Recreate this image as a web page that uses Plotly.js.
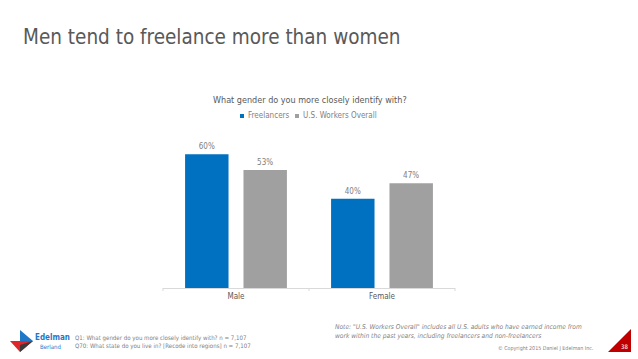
<!DOCTYPE html>
<html><head><meta charset="utf-8">
<script src="https://cdn.plot.ly/plotly-3.0.1.min.js"></script>
<style>html,body{margin:0;padding:0;background:#fff}#c{width:638px;height:359px}</style>
</head><body><div id="c"></div>
<script>
const categories = ["Male", "Female"];
const freelancers = [60, 40];
const workersOverall = [53, 47];
const seriesNames = ["Freelancers", "U.S. Workers Overall"];
const seriesColors = ["#0070C0", "#A0A0A0"];

const W = 638, H = 359;
const L = 163, R = 455, T = 132, B = 288;
const px = x => (x - L) / (R - L);
const py = y => (B - y) / (B - T);
const FONT = "'Liberation Sans Narrow', 'DejaVu Sans Condensed', 'Roboto', Arial, sans-serif";

function pathP(pts){
  return 'M' + pts.map(p => px(p[0]).toFixed(4) + ',' + py(p[1]).toFixed(4)).join('L') + 'Z';
}

const lbl = v => v.map(x => x + '%');
const traces = [freelancers, workersOverall].map((vals, i) => ({
  type:'bar', name:seriesNames[i], x:categories, y:vals, marker:{color:seriesColors[i]},
  text:lbl(vals), textposition:'outside', cliponaxis:false,
  textfont:{size:8, color:'#808080', family:FONT}, hoverinfo:'none'
}));

// custom legend (small square markers)
const legendItems = [{x:242, tx:246}, {x:297, tx:301}];
const legendShapes = legendItems.map((it, i) => ({
  type:'rect', xref:'paper', yref:'paper',
  x0:px(it.x - 2), x1:px(it.x + 2), y0:py(118), y1:py(114),
  fillcolor:seriesColors[i], line:{width:0}
}));
const legendAnns = legendItems.map((it, i) => ({
  text:seriesNames[i], xref:'paper', yref:'paper', x:px(it.tx), y:py(116),
  xanchor:'left', yanchor:'middle', showarrow:false,
  font:{size:8, color:'#7f7f7f', family:FONT}
}));

const layout = {
  width:W, height:H,
  margin:{l:L, r:W-R, t:T, b:H-B, pad:0},
  paper_bgcolor:'#fff', plot_bgcolor:'#fff',
  barmode:'group', bargap:0.2, bargroupgap:0.256,
  showlegend:false,
  font:{family:FONT, color:'#7f7f7f'},
  xaxis:{showline:true, linecolor:'#d9d9d9', linewidth:1, ticks:'', showgrid:false,
    tickfont:{size:8, color:'#595959', family:FONT}, fixedrange:true},
  yaxis:{range:[0,70], visible:false, showgrid:false, zeroline:false, fixedrange:true},
  shapes:[
    {type:'line', xref:'paper', yref:'paper', x0:0, x1:0, y0:0, y1:py(291), line:{color:'#d9d9d9', width:1}},
    {type:'line', xref:'paper', yref:'paper', x0:0.5, x1:0.5, y0:0, y1:py(291), line:{color:'#d9d9d9', width:1}},
    {type:'line', xref:'paper', yref:'paper', x0:1, x1:1, y0:0, y1:py(291), line:{color:'#d9d9d9', width:1}},
    {type:'path', xref:'paper', yref:'paper', path:pathP([[608,352],[631,352],[631,329]]),
     fillcolor:'#C00000', line:{width:0}},
    {type:'path', xref:'paper', yref:'paper', path:pathP([[20,330],[33,341],[20,345]]),
     fillcolor:'#1F77C8', line:{width:0}},
    {type:'path', xref:'paper', yref:'paper', path:pathP([[10,341],[33,341],[20,352]]),
     fillcolor:'#E0252B', line:{width:0}},
    {type:'path', xref:'paper', yref:'paper', path:pathP([[20,345],[33,341],[20,352]]),
     fillcolor:'#3a3a3a', line:{width:0}}
  ].concat(legendShapes),
  annotations:[
    {text:'Men tend to freelance more than women', xref:'paper', yref:'paper',
     x:px(21), y:py(37), xanchor:'left', yanchor:'middle', showarrow:false,
     font:{size:20.5, color:'#595959', family:FONT}},
    {text:'What gender do you more closely identify with?', xref:'paper', yref:'paper',
     x:px(310), y:py(100), xanchor:'center', yanchor:'middle', showarrow:false,
     font:{size:9, color:'#595959', family:FONT}},
    {text:'<b>Edelman</b>', xref:'paper', yref:'paper', x:px(33), y:py(337), xanchor:'left', yanchor:'middle',
     showarrow:false, font:{size:8, color:'#1F77C8', family:FONT}},
    {text:'Berland', xref:'paper', yref:'paper', x:px(38), y:py(346), xanchor:'left', yanchor:'middle',
     showarrow:false, font:{size:6, color:'#1F77C8', family:FONT}},
    {text:'Q1: What gender do you more closely identify with? n = 7,107<br>Q70: What state do you live in? [Recode into regions] n = 7,107',
     xref:'paper', yref:'paper', x:px(73), y:py(342), xanchor:'left', yanchor:'middle', align:'left',
     showarrow:false, font:{size:6.1, color:'#7f7f7f', family:FONT}},
    {text:'<i>Note: "U.S. Workers Overall" includes all U.S. adults who have earned income from<br>work within the past years, including freelancers and non-freelancers</i>',
     xref:'paper', yref:'paper', x:px(333), y:py(331), xanchor:'left', yanchor:'middle', align:'left',
     showarrow:false, font:{size:6.6, color:'#7f7f7f', family:FONT}},
    {text:'© Copyright 2015 Daniel J Edelman Inc.', xref:'paper', yref:'paper',
     x:px(595), y:py(348), xanchor:'right', yanchor:'middle', showarrow:false,
     font:{size:5.3, color:'#7f7f7f', family:FONT}},
    {text:'38', xref:'paper', yref:'paper', x:px(624), y:py(346), xanchor:'center', yanchor:'middle',
     showarrow:false, font:{size:6, color:'#ffffff', family:FONT}}
  ].concat(legendAnns)
};

Plotly.newPlot('c', traces, layout, {staticPlot:true, displayModeBar:false});
</script></body></html>
